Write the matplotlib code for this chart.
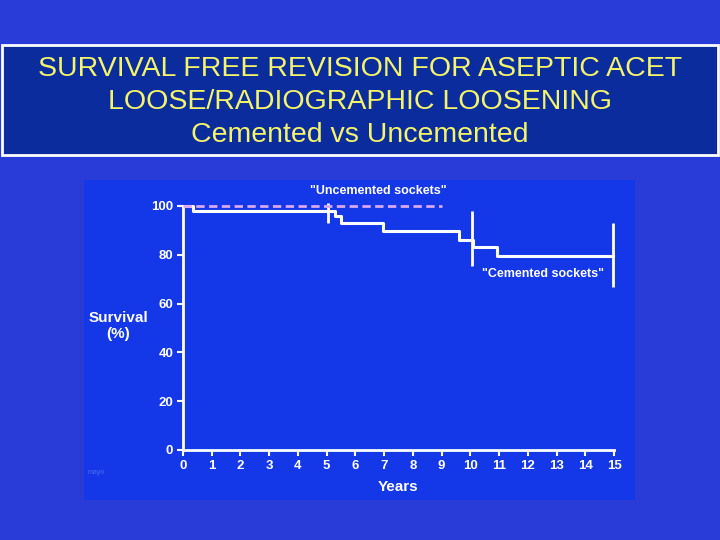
import matplotlib.pyplot as plt
from matplotlib.patches import Rectangle

plt.rcParams['font.family'] = ['Liberation Sans', 'DejaVu Sans']

# --- data ---
title_lines = ["SURVIVAL FREE REVISION FOR ASEPTIC ACET",
               "LOOSE/RADIOGRAPHIC LOOSENING",
               "Cemented vs Uncemented"]

cem_years = [0, 0.35, 5.3, 5.5, 6.95, 9.6, 10.1, 10.93, 14.95]
cem_surv = [100, 97.8, 95.9, 92.9, 89.8, 86.1, 83.3, 79.5, 79.5]

# censor marks (vertical bars) on the cemented curve
cens_x = [5.05, 10.05, 14.95]
cens_lo = [93.2, 75.4, 66.9]
cens_hi = [101.2, 98.1, 93.0]

unc_years = [0, 9.0]
unc_surv = [100, 100]

x_ticks = list(range(0, 16))
y_ticks = [0, 20, 40, 60, 80, 100]

BG = "#2a3cd8"
PANEL = "#1438e8"
BOX = "#0a2c9c"

W, H = 720, 540
fig = plt.figure(figsize=(7.2, 5.4), dpi=100, facecolor=BG)

# title box
fig.patches.append(Rectangle((2 / W, 1 - 155 / H), 716 / W, 110 / H,
                             transform=fig.transFigure, facecolor=BOX,
                             edgecolor="white", linewidth=2, zorder=-10))
for i, line in enumerate(title_lines):
    fig.text(0.5, 1 - (69 + 33 * i) / H, line, ha="center", va="center",
             color="#f4f46a", fontsize=20.5, fontstretch="condensed")

# chart panel
fig.patches.append(Rectangle((84 / W, 1 - 500 / H), 551 / W, 320 / H,
                             transform=fig.transFigure, facecolor=PANEL,
                             edgecolor="none", zorder=-10))

ax = fig.add_axes([183 / W, 1 - 450 / H, 431 / W, 244 / H])
ax.set_facecolor("none")
ax.set_xlim(0, 15)
ax.set_ylim(0, 100)

ax.step(cem_years, cem_surv, where="post", color="white", lw=2.2,
        clip_on=False, zorder=3)
ax.vlines(cens_x, cens_lo, cens_hi, color="white", lw=2, clip_on=False, zorder=3)
ax.plot(unc_years, unc_surv, color="#d8a8f0", lw=2, ls=(0, (3, 1.6)),
        clip_on=False, zorder=4)

ax.text(6.8, 106, '"Uncemented sockets"', ha="center", va="center",
        color="white", fontsize=9, fontweight="bold")
ax.text(12.53, 72, '"Cemented sockets"', ha="center", va="center",
        color="white", fontsize=9, fontweight="bold")

for s in ["top", "right"]:
    ax.spines[s].set_visible(False)
for s in ["left", "bottom"]:
    ax.spines[s].set_color("white")
    ax.spines[s].set_linewidth(2)

ax.set_xticks(x_ticks)
ax.set_yticks(y_ticks)
ax.tick_params(colors="white", width=1.5, length=4, labelsize=9.5, pad=3)
for lbl in ax.get_xticklabels() + ax.get_yticklabels():
    lbl.set_fontweight("bold")

fig.text(118 / W, 1 - 326 / H, "Survival\n(%)", ha="center", va="center",
         color="white", fontsize=11, fontweight="bold", linespacing=1.2)
fig.text(398 / W, 1 - 487 / H, "Years", ha="center", va="center",
         color="white", fontsize=11, fontweight="bold")

# faint institutional mark in the corner
fig.text(96 / W, 1 - 472 / H, "mayo", ha="center", va="center",
         color="#4a6af0", fontsize=5)

fig.savefig("out.png", dpi=100, facecolor=BG)
